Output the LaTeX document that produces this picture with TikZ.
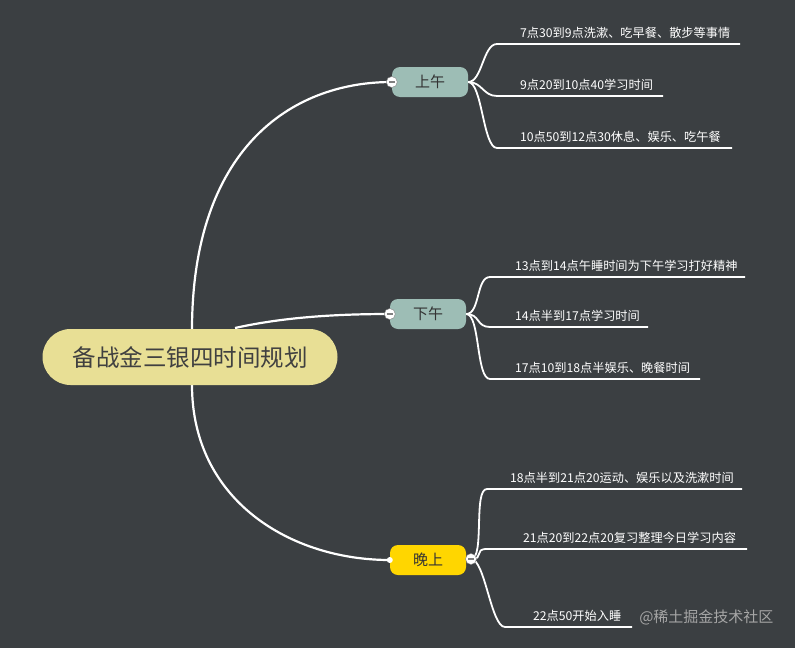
\documentclass[tikz,border=0pt]{standalone}
\usepackage{fontspec}
\setmainfont{Noto Sans CJK SC}
\begin{document}
\begin{tikzpicture}[x=1pt,y=-1pt,
  conn/.style={white,line width=2.2pt},
  leafline/.style={white,line width=1.8pt},
  leaf/.style={white,font=\fontsize{12.2}{14}\selectfont,anchor=south west,inner sep=1pt},
  sub/.style={rounded corners=8pt,minimum width=76pt,minimum height=30pt,font=\fontsize{15}{17}\selectfont,text=black!80},
  knob/.style={circle,draw=gray,fill=white,minimum size=11pt,inner sep=0pt}]
\fill[fill={rgb,255:red,59;green,63;blue,66}] (0,0) rectangle (795,648);
\useasboundingbox (0,0) rectangle (795,648);
\coordinate (r1) at (192,330); \coordinate (r2) at (235,328); \coordinate (r3) at (192,385);
\node[sub,fill={rgb,255:red,157;green,189;blue,181}] (am) at (430,82) {上午};
\node[sub,fill={rgb,255:red,157;green,189;blue,181}] (pm) at (428,314) {下午};
\node[sub,fill={rgb,255:red,255;green,214;blue,0}] (ev) at (428,560) {晚上};
\draw[conn] (r1) .. controls (192,150) and (290,82) .. (am.west);
\draw[conn] (r2) .. controls (280,318) and (330,314) .. (pm.west);
\draw[conn] (r3) .. controls (192,500) and (290,560) .. (ev.west);
\node[fill={rgb,255:red,232;green,223;blue,149},rounded corners=28pt,minimum width=295pt,minimum height=56pt,font=\fontsize{23.5}{27}\selectfont,text=black!75] (root) at (190,357) {备战金三银四时间规划};
\node[knob] (k1) at (am.west) {}; \draw[gray,line width=1.2pt] ([xshift=-3pt]k1.center)--([xshift=3pt]k1.center);
\node[knob] (k2) at (pm.west) {}; \draw[gray,line width=1.2pt] ([xshift=-3pt]k2.center)--([xshift=3pt]k2.center);
\fill[white] (ev.west) circle (3pt);
\coordinate (a1) at (497,44); \coordinate (a1e) at (740,44);
\coordinate (a2) at (497,96); \coordinate (a2e) at (663,96);
\coordinate (a3) at (497,148); \coordinate (a3e) at (732,148);
\node[leaf] (ta1) at (519,40) {7点30到9点洗漱、吃早餐、散步等事情};
\node[leaf] (ta2) at (519,92) {9点20到10点40学习时间};
\node[leaf] (ta3) at (519,144) {10点50到12点30休息、娱乐、吃午餐};
\coordinate (p1) at (490,277); \coordinate (p1e) at (745,277);
\coordinate (p2) at (490,327); \coordinate (p2e) at (648,327);
\coordinate (p3) at (490,379); \coordinate (p3e) at (700,379);
\node[leaf] (tp1) at (514,273) {13点到14点午睡时间为下午学习打好精神};
\node[leaf] (tp2) at (514,323) {14点半到17点学习时间};
\node[leaf] (tp3) at (514,375) {17点10到18点半娱乐、晚餐时间};
\coordinate (e1) at (487,489); \coordinate (e1e) at (742,489);
\coordinate (e2) at (487,549); \coordinate (e2e) at (747,549);
\coordinate (e3) at (505,627); \coordinate (e3e) at (632,627);
\node[leaf] (te1) at (509,485) {18点半到21点20运动、娱乐以及洗漱时间};
\node[leaf] (te2) at (522,545) {21点20到22点20复习整理今日学习内容};
\node[leaf] (te3) at (532,623) {22点50开始入睡};
\coordinate (ae) at (am.east); \coordinate (pe) at (pm.east); \coordinate (ee) at (471,559);
\foreach \s/\e/\o in {a1/a1e/ae,a2/a2e/ae,a3/a3e/ae,p1/p1e/pe,p2/p2e/pe,p3/p3e/pe,e1/e1e/ee,e2/e2e/ee,e3/e3e/ee}{
 \draw[leafline] (\o) .. controls ([xshift=14pt]\o) and ([xshift=-14pt]\s) .. (\s) -- (\e);}
\node[knob] (k3) at (ee) {}; \draw[gray,line width=1.2pt] ([xshift=-3pt]k3.center)--([xshift=3pt]k3.center);
\node[text=gray!70,font=\fontsize{15}{17}\selectfont,anchor=east] (wm) at (777,617) {@稀土掘金技术社区};
\end{tikzpicture}
\end{document}
